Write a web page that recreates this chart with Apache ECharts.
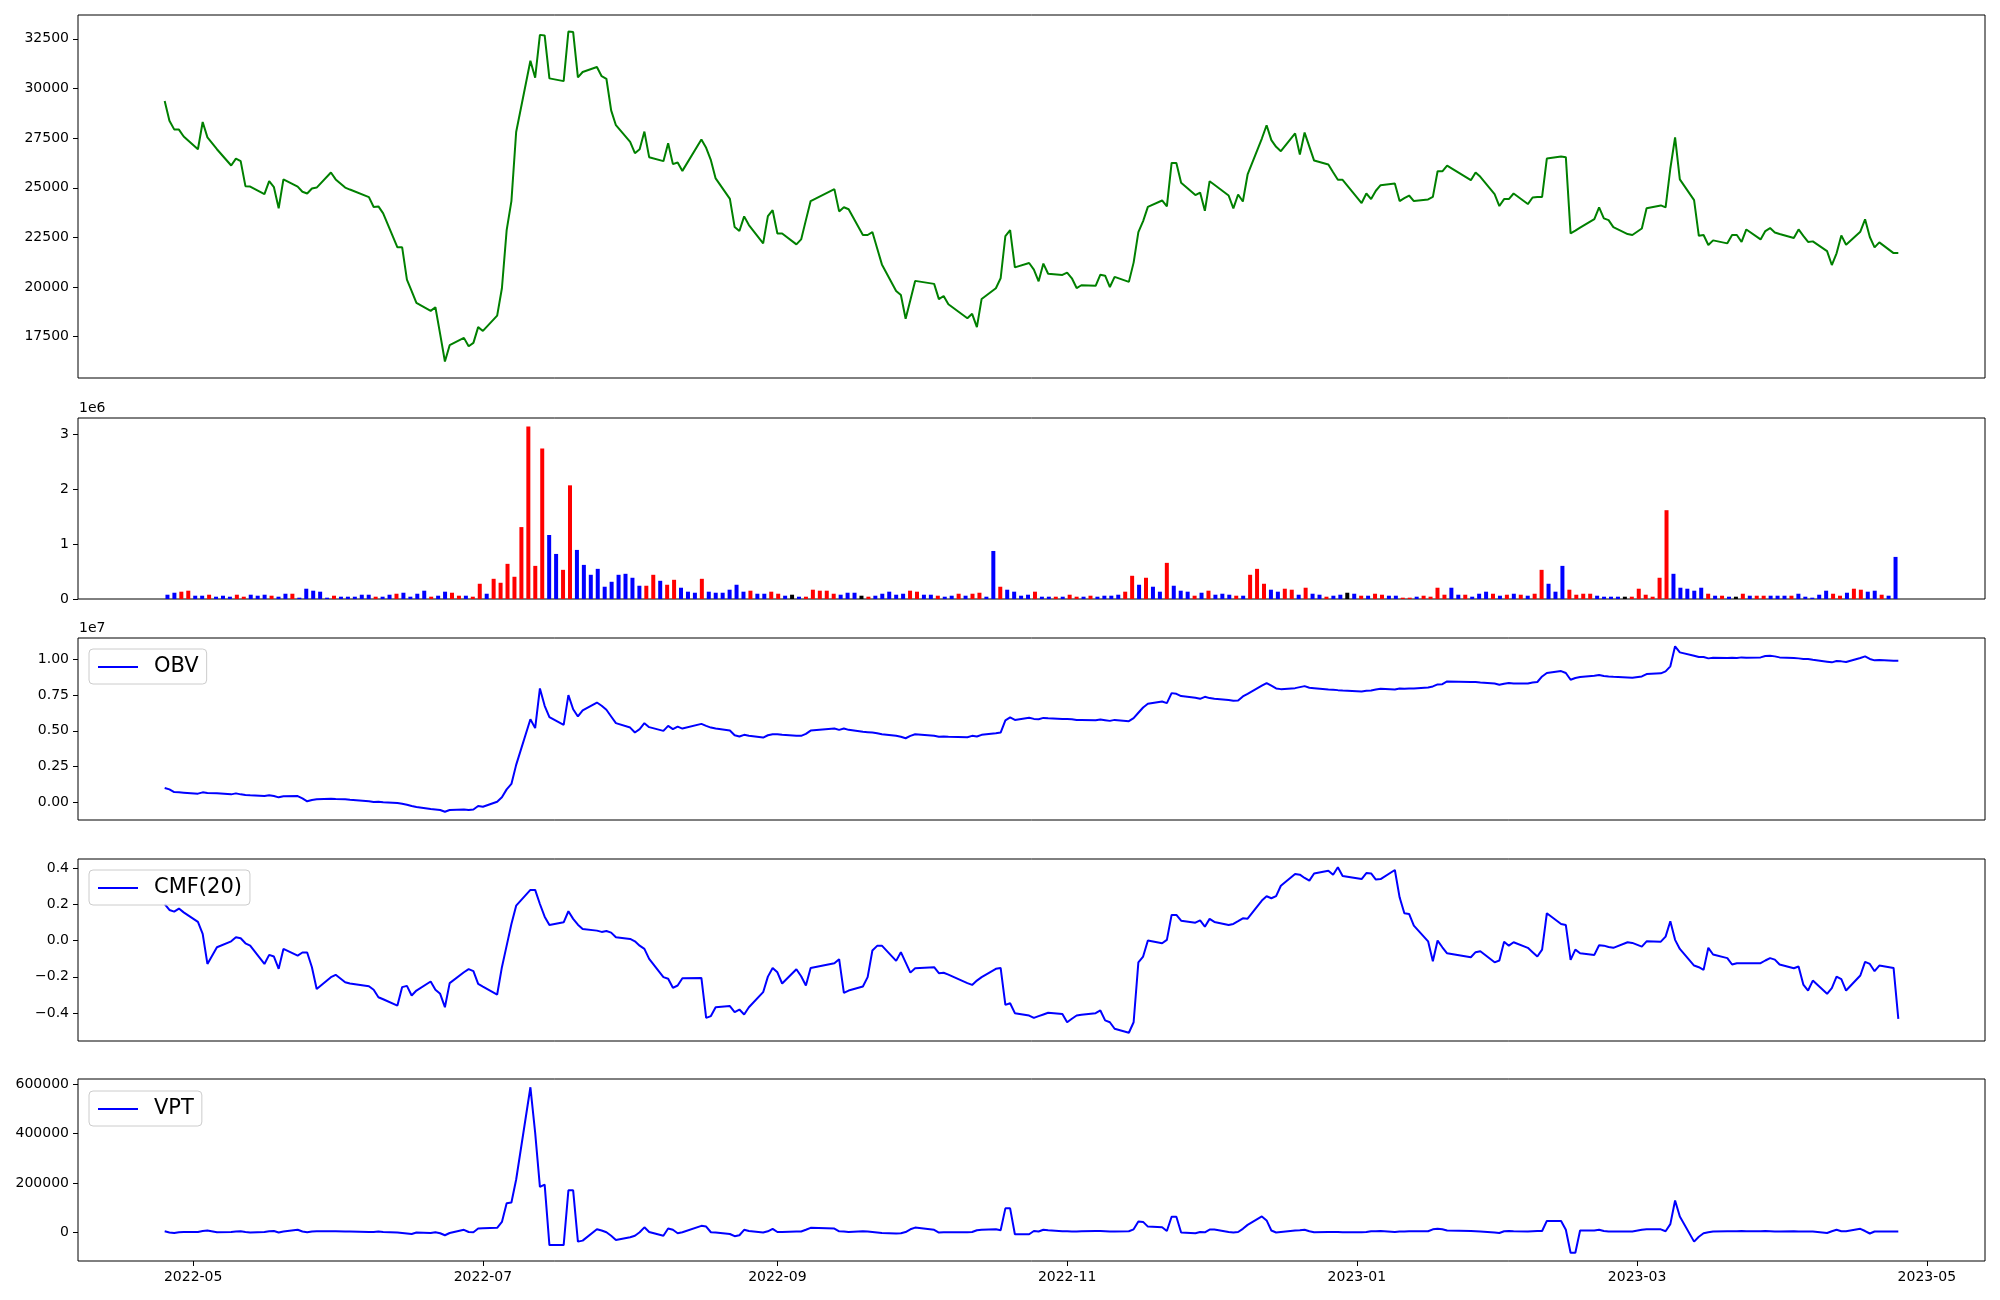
<!DOCTYPE html>
<html><head><meta charset="utf-8">
<script src="https://cdn.jsdelivr.net/npm/echarts@6/dist/echarts.min.js"></script>
<style>html,body{margin:0;padding:0;background:#fff}#c{width:2000px;height:1300px}</style>
</head><body><div id="c"></div>
<script>
// ---------------- data ----------------
const dates = [
'2022-04-25','2022-04-26','2022-04-27','2022-04-28','2022-04-29',
'2022-05-02','2022-05-03','2022-05-04','2022-05-06','2022-05-09','2022-05-10','2022-05-11','2022-05-12','2022-05-13','2022-05-16','2022-05-17','2022-05-18','2022-05-19','2022-05-20','2022-05-23','2022-05-24','2022-05-25','2022-05-26','2022-05-27','2022-05-30','2022-05-31',
'2022-06-02','2022-06-03','2022-06-07','2022-06-08','2022-06-09','2022-06-10','2022-06-13','2022-06-14','2022-06-15','2022-06-16','2022-06-17','2022-06-20','2022-06-21','2022-06-22','2022-06-23','2022-06-24','2022-06-27','2022-06-28','2022-06-29','2022-06-30',
'2022-07-01','2022-07-04','2022-07-05','2022-07-06','2022-07-07','2022-07-08','2022-07-11','2022-07-12','2022-07-13','2022-07-14','2022-07-15','2022-07-18','2022-07-19','2022-07-20','2022-07-21','2022-07-22','2022-07-25','2022-07-26','2022-07-27','2022-07-28','2022-07-29',
'2022-08-01','2022-08-02','2022-08-03','2022-08-04','2022-08-05','2022-08-08','2022-08-09','2022-08-10','2022-08-11','2022-08-12','2022-08-16','2022-08-17','2022-08-18','2022-08-19','2022-08-22','2022-08-23','2022-08-24','2022-08-25','2022-08-26','2022-08-29','2022-08-30','2022-08-31',
'2022-09-01','2022-09-02','2022-09-05','2022-09-06','2022-09-07','2022-09-08','2022-09-13','2022-09-14','2022-09-15','2022-09-16','2022-09-19','2022-09-20','2022-09-21','2022-09-22','2022-09-23','2022-09-26','2022-09-27','2022-09-28','2022-09-29','2022-09-30',
'2022-10-04','2022-10-05','2022-10-06','2022-10-07','2022-10-11','2022-10-12','2022-10-13','2022-10-14','2022-10-17','2022-10-18','2022-10-19','2022-10-20','2022-10-21','2022-10-24','2022-10-25','2022-10-26','2022-10-27','2022-10-28','2022-10-31',
'2022-11-01','2022-11-02','2022-11-03','2022-11-04','2022-11-07','2022-11-08','2022-11-09','2022-11-10','2022-11-11','2022-11-14','2022-11-15','2022-11-16','2022-11-17','2022-11-18','2022-11-21','2022-11-22','2022-11-23','2022-11-24','2022-11-25','2022-11-28','2022-11-29','2022-11-30',
'2022-12-01','2022-12-02','2022-12-05','2022-12-06','2022-12-07','2022-12-08','2022-12-09','2022-12-12','2022-12-13','2022-12-14','2022-12-15','2022-12-16','2022-12-19','2022-12-20','2022-12-21','2022-12-22','2022-12-23','2022-12-26','2022-12-27','2022-12-28','2022-12-29',
'2023-01-02','2023-01-03','2023-01-04','2023-01-05','2023-01-06','2023-01-09','2023-01-10','2023-01-11','2023-01-12','2023-01-13','2023-01-16','2023-01-17','2023-01-18','2023-01-19','2023-01-20','2023-01-25','2023-01-26','2023-01-27','2023-01-30','2023-01-31',
'2023-02-01','2023-02-02','2023-02-03','2023-02-06','2023-02-07','2023-02-08','2023-02-09','2023-02-10','2023-02-13','2023-02-14','2023-02-15','2023-02-16','2023-02-17','2023-02-20','2023-02-21','2023-02-22','2023-02-23','2023-02-24','2023-02-27','2023-02-28',
'2023-03-02','2023-03-03','2023-03-06','2023-03-07','2023-03-08','2023-03-09','2023-03-10','2023-03-13','2023-03-14','2023-03-15','2023-03-16','2023-03-17','2023-03-20','2023-03-21','2023-03-22','2023-03-23','2023-03-24','2023-03-27','2023-03-28','2023-03-29','2023-03-30','2023-03-31',
'2023-04-03','2023-04-04','2023-04-05','2023-04-06','2023-04-07','2023-04-10','2023-04-11','2023-04-12','2023-04-13','2023-04-14','2023-04-17','2023-04-18','2023-04-19','2023-04-20','2023-04-21','2023-04-24','2023-04-25'
];

const price = [
29370,28380,27940,27930,27580,
26940,28310,27540,26940,26120,26470,26340,25080,25060,24680,25330,25030,23970,25420,25060,24800,24710,24960,25010,25770,25420,
25010,24910,24530,24030,24060,23710,22000,22000,20370,19800,19200,18800,18980,17630,16250,17070,17440,17020,17190,17980,
17790,18560,19940,22870,24330,27810,31400,30540,32700,32670,30510,30370,32870,32840,30560,30830,31080,30620,30490,28900,28150,
27310,26740,26940,27830,26540,26340,27240,26190,26270,25850,27430,27010,26390,25470,24440,23020,22820,23560,23120,22200,23570,23870,
22700,22700,22150,22400,23370,24330,24930,23810,24020,23920,22620,22620,22770,21950,21140,19800,19600,18400,19350,20310,
20160,19390,19550,19130,18430,18650,17980,19400,19940,20440,22570,22870,20990,21210,20880,20290,21180,20670,20610,
20730,20440,19950,20090,20060,20620,20570,20000,20510,20260,21230,22770,23320,24040,24360,24060,26250,26250,25250,24630,24760,23840,
25330,25150,24610,23960,24660,24310,25670,27480,28150,27400,27060,26840,27740,26670,27780,27070,26370,26170,25780,25400,25400,
24230,24710,24430,24850,25130,25210,24330,24480,24610,24330,24410,24540,25830,25830,26120,25380,25770,25550,24680,24080,
24430,24430,24710,24180,24510,24530,24540,26470,26570,26540,22700,22840,22990,23420,24010,23460,23370,23020,22670,22620,
22950,23970,24110,24010,25970,27540,25420,24380,22580,22620,22120,22350,22200,22620,22620,22270,22900,22400,22820,22970,22750,22670,
22470,22900,22580,22270,22300,21810,21110,21700,22600,22130,22790,23410,22520,22000,22250,21710,21710
];

const volume = [
78000,114000,133000,151000,60000,
60000,78000,42000,60000,42000,78000,42000,78000,60000,78000,60000,42000,96000,96000,24000,187000,151000,133000,24000,60000,42000,
42000,42000,78000,78000,42000,42000,78000,96000,114000,42000,96000,151000,42000,60000,133000,114000,60000,60000,42000,277000,
96000,367000,295000,639000,404000,1307000,3133000,602000,2735000,1163000,819000,530000,2066000,892000,620000,440000,548000,223000,313000,440000,458000,
386000,241000,241000,440000,331000,259000,349000,205000,133000,114000,367000,133000,114000,114000,169000,259000,133000,151000,96000,96000,133000,96000,
60000,78000,42000,42000,169000,151000,151000,96000,78000,114000,114000,60000,42000,60000,96000,133000,78000,96000,151000,133000,
78000,78000,60000,42000,60000,96000,60000,96000,114000,42000,873000,223000,169000,133000,60000,78000,133000,42000,42000,
42000,42000,78000,42000,42000,60000,42000,60000,60000,78000,133000,422000,259000,386000,223000,133000,657000,241000,151000,133000,60000,114000,
151000,78000,96000,78000,60000,60000,440000,548000,277000,169000,133000,187000,169000,78000,205000,96000,78000,42000,60000,78000,114000,
96000,60000,60000,96000,78000,60000,60000,24000,24000,42000,60000,42000,205000,78000,205000,78000,78000,42000,96000,133000,
96000,60000,78000,96000,78000,60000,96000,530000,277000,133000,602000,169000,78000,96000,96000,60000,42000,42000,42000,42000,
42000,187000,78000,42000,386000,1614000,458000,205000,187000,151000,205000,96000,60000,60000,42000,42000,96000,60000,60000,60000,60000,60000,
60000,60000,96000,42000,24000,78000,151000,96000,60000,114000,187000,169000,133000,151000,78000,60000,765000
];

// bar colour per day: r = red, b = blue, k = black
const barDir =
  "bbrrbbrbbb" + "rrbbbrbbrb" + "bbbbrbbbbb" + "rbbrbbbbrb" + "brrbrrbrrr" +
  "rrrrrbbrrb" + "bbbbbbbbbr" + "rbrrbbbrbb" + "bbbbrbbrrb" + "kbrrrrrbbb" +
  "krbbbbbrrb" + "brbbrbrrbb" + "rbbbbrbbrb" + "rrbrbbbbrr" + "brbbrbbbrb" +
  "rbbbrbrrrb" + "brrbrbbrbb" + "kbrbrrbbrr" + "brrrrbbrbb" + "brbrbrbrrb" +
  "bbrrrrbbbb" + "krrrrrrbbb" + "bbrbrbkrbr" + "rbbbrbbbbb" + "rrbrrbbrbb";

const obv = [
990000,890000,700000,680000,660000,
590000,680000,630000,610000,540000,610000,540000,490000,470000,420000,470000,420000,330000,400000,420000,260000,50000,140000,190000,230000,210000,
190000,160000,50000,0,20000,-20000,-70000,-120000,-190000,-280000,-350000,-490000,-520000,-560000,-680000,-560000,-520000,-560000,-520000,-280000,
-330000,20000,330000,890000,1270000,2610000,5820000,5190000,7980000,6760000,5960000,5420000,7510000,6520000,6010000,6430000,6990000,6760000,6480000,6010000,5540000,
5230000,4880000,5120000,5540000,5260000,5000000,5350000,5120000,5300000,5160000,5490000,5350000,5230000,5160000,5020000,4690000,4600000,4720000,4650000,4530000,4690000,4760000,
4760000,4720000,4650000,4650000,4790000,5020000,5160000,5070000,5160000,5070000,4930000,4910000,4880000,4830000,4760000,4650000,4580000,4480000,4650000,4760000,
4650000,4580000,4600000,4580000,4550000,4650000,4600000,4720000,4830000,4880000,5730000,5940000,5770000,5920000,5840000,5820000,5910000,5890000,5840000,
5840000,5820000,5770000,5770000,5750000,5800000,5750000,5700000,5770000,5680000,5890000,6270000,6640000,6900000,7060000,6950000,7650000,7600000,7440000,7320000,7250000,7390000,
7300000,7250000,7160000,7110000,7130000,7420000,7600000,8170000,8360000,8170000,7980000,7930000,8000000,8070000,8140000,8030000,8000000,7910000,7890000,7860000,7840000,
7770000,7820000,7840000,7910000,7960000,7910000,7980000,7960000,7980000,7980000,8050000,8120000,8260000,8280000,8470000,8430000,8430000,8400000,8330000,8240000,
8310000,8360000,8330000,8330000,8400000,8430000,8820000,9060000,9200000,9060000,8590000,8710000,8780000,8870000,8920000,8850000,8820000,8800000,8750000,8730000,
8820000,8990000,9040000,9180000,9530000,10940000,10510000,10280000,10190000,10190000,10090000,10140000,10120000,10140000,10120000,10160000,10140000,10160000,10260000,10280000,10230000,10160000,
10120000,10090000,10050000,10050000,10000000,9860000,9810000,9900000,9880000,9830000,10120000,10230000,10050000,9950000,9970000,9930000,9930000
];

const cmf = [
0.202,0.169,0.160,0.177,0.156,
0.103,0.037,-0.129,-0.037,-0.004,0.018,0.013,-0.015,-0.028,-0.129,-0.079,-0.088,-0.156,-0.046,-0.083,-0.066,-0.066,-0.147,-0.267,-0.202,-0.189,
-0.230,-0.237,-0.252,-0.272,-0.313,-0.324,-0.359,-0.257,-0.250,-0.303,-0.276,-0.226,-0.272,-0.294,-0.368,-0.235,-0.175,-0.158,-0.169,-0.239,
-0.254,-0.298,-0.147,-0.028,0.092,0.193,0.280,0.280,0.202,0.132,0.086,0.101,0.162,0.120,0.088,0.064,0.055,0.048,0.053,0.044,0.018,
0.009,-0.004,-0.028,-0.046,-0.101,-0.202,-0.211,-0.261,-0.248,-0.208,-0.206,-0.427,-0.417,-0.368,-0.362,-0.395,-0.381,-0.408,-0.368,-0.285,-0.199,-0.151,
-0.175,-0.237,-0.158,-0.197,-0.248,-0.151,-0.125,-0.103,-0.289,-0.276,-0.254,-0.202,-0.055,-0.029,-0.028,-0.112,-0.064,-0.120,-0.177,-0.153,
-0.147,-0.180,-0.178,-0.188,-0.235,-0.245,-0.221,-0.202,-0.156,-0.151,-0.355,-0.346,-0.401,-0.414,-0.427,-0.417,-0.408,-0.399,-0.405,
-0.451,-0.432,-0.414,-0.410,-0.401,-0.386,-0.441,-0.451,-0.487,-0.509,-0.451,-0.120,-0.088,0.000,-0.015,0.004,0.142,0.142,0.110,0.099,0.112,0.077,
0.120,0.103,0.086,0.092,0.107,0.123,0.121,0.221,0.245,0.234,0.246,0.303,0.368,0.364,0.346,0.331,0.371,0.386,0.364,0.405,0.357,
0.340,0.373,0.371,0.337,0.340,0.390,0.239,0.151,0.147,0.083,-0.004,-0.114,0.000,-0.037,-0.070,-0.092,-0.064,-0.059,-0.120,-0.110,
-0.006,-0.028,-0.009,-0.040,-0.064,-0.088,-0.050,0.151,0.092,0.086,-0.107,-0.050,-0.070,-0.079,-0.026,-0.028,-0.035,-0.040,-0.009,-0.013,
-0.033,-0.004,-0.006,0.022,0.107,0.004,-0.046,-0.138,-0.147,-0.162,-0.040,-0.077,-0.097,-0.132,-0.125,-0.125,-0.125,-0.125,-0.110,-0.097,-0.105,-0.132,
-0.153,-0.143,-0.243,-0.276,-0.221,-0.294,-0.263,-0.199,-0.213,-0.276,-0.193,-0.118,-0.129,-0.169,-0.138,-0.151,-0.432
];

const vpt = [
4000,-1000,-3000,0,1000,
1000,5000,7000,0,1000,3000,4000,1000,-1000,1000,4000,5000,-1000,3000,10000,3000,0,3000,4000,4000,4000,
3000,3000,1000,1000,3000,1000,-1000,-3000,-5000,-7000,-1000,-3000,0,-4000,-12000,-3000,10000,1000,0,15000,
16000,18000,42000,118000,121000,214000,588000,404000,184000,193000,-52000,-52000,170000,170000,-38000,-34000,12000,7000,0,-14000,-31000,
-20000,-14000,0,20000,1000,-14000,15000,10000,-4000,0,26000,23000,0,-1000,-7000,-16000,-12000,10000,5000,-1000,4000,14000,
1000,1000,3000,3000,10000,18000,15000,4000,3000,1000,4000,3000,1000,-1000,-3000,-5000,-4000,1000,12000,19000,
10000,-1000,0,0,0,1000,8000,10000,12000,8000,97000,97000,-8000,-8000,5000,3000,10000,8000,4000,
4000,3000,3000,4000,5000,5000,4000,3000,3000,4000,12000,44000,42000,23000,20000,5000,63000,63000,-1000,-4000,1000,0,
11000,11000,1000,-1000,1000,14000,30000,64000,48000,7000,-1000,1000,7000,8000,10000,4000,0,1000,1000,1000,0,
0,1000,4000,4000,5000,1000,3000,3000,4000,4000,4000,12000,14000,12000,7000,5000,4000,3000,-1000,-3000,
4000,5000,4000,3000,4000,5000,5000,46000,46000,10000,-83000,-83000,7000,7000,10000,5000,3000,3000,3000,3000,
10000,12000,12000,4000,33000,129000,64000,-38000,-18000,-4000,0,3000,4000,4000,4000,5000,4000,4000,5000,4000,3000,3000,
4000,3000,3000,3000,3000,-3000,4000,10000,4000,4000,14000,5000,-5000,3000,3000,3000,3000
];

// tick labels
const monthTicks = ['2022-05-01','2022-07-01','2022-09-01','2022-11-01','2023-01-01','2023-03-01','2023-05-01'];
const priceTicks = [17500,20000,22500,25000,27500,30000,32500];
const volTicks = [0,1e6,2e6,3e6];
const obvTicks = [0,2.5e6,5e6,7.5e6,1e7];
const cmfTicks = [-0.4,-0.2,0,0.2,0.4];
const vptTicks = [0,200000,400000,600000];

// ---------------- chart ----------------
const ts = s => { const p = s.split('-').map(Number); return Date.UTC(p[0], p[1]-1, p[2]); };
const X = dates.map(ts);
const span = X[X.length-1] - X[0];
const xMin = X[0] - 0.05*span, xMax = X[X.length-1] + 0.05*span;
const n = volume.length;
const bMin = -0.4 - 0.05*(n-1+0.8), bMax = n-1+0.4 + 0.05*(n-1+0.8);
function pad(arr, stickyZero){
  const lo = stickyZero ? 0 : Math.min(...arr), hi = Math.max(...arr);
  const r = hi - lo;
  return [stickyZero ? 0 : lo - 0.05*r, hi + 0.05*r];
}
const FONT = 'DejaVu Sans';
const MINUS = '\u2212';
const fmtNum = (v, d) => { const s = Math.abs(v).toFixed(d); return (v < -1e-12 ? MINUS : '') + s; };

const grids = [
  {left:78, top:15,   width:1907, height:363},
  {left:78, top:418,  width:1907, height:181},
  {left:78, top:638,  width:1907, height:182},
  {left:78, top:859,  width:1907, height:182},
  {left:78, top:1079, width:1907, height:182}
].map(g => Object.assign({show:true, borderColor:'#000', borderWidth:1, backgroundColor:'#fff', outerBoundsMode:'none', containLabel:false}, g));

function xAx(i, isBar){
  const bottom = (i === 4);
  return {
    type:'value', gridIndex:i, position:'bottom',
    min: isBar ? bMin : xMin, max: isBar ? bMax : xMax,
    axisLine:{show:false, onZero:false},
    splitLine:{show:false},
    axisTick:{show:bottom, inside:false, length:5, lineStyle:{color:'#000', width:1}, customValues: monthTicks.map(ts)},
    axisLabel:{show:bottom, customValues: monthTicks.map(ts), color:'#000', fontSize:14, fontFamily:FONT, margin:9,
      formatter: v => { const d = new Date(v); return d.getUTCFullYear() + '-' + String(d.getUTCMonth()+1).padStart(2,'0'); }}
  };
}
function yAx(i, rng, ticks, fmt){
  return {
    type:'value', gridIndex:i, position:'left', min:rng[0], max:rng[1], scale:true,
    axisLine:{show:false, onZero:false}, splitLine:{show:false},
    axisTick:{show:true, inside:false, length:5, lineStyle:{color:'#000', width:1}, customValues:ticks},
    axisLabel:{show:true, customValues:ticks, color:'#000', fontSize:14, fontFamily:FONT, margin:9, formatter:fmt}
  };
}

const legendBase = {
  orient:'horizontal', icon:'rect', itemWidth:40, itemHeight:2, itemGap:0,
  padding:[6,8,5,9], borderColor:'#cccccc', borderWidth:1, borderRadius:4,
  backgroundColor:'rgba(255,255,255,0.8)', selectedMode:false,
  textStyle:{fontSize:21, fontFamily:FONT, color:'#000', lineHeight:24, padding:[0,0,0,11]}
};

const colorMap = {r:'#ff0000', b:'#0000ff', k:'#000000'};

const option = {
  animation:false,
  backgroundColor:'#fff',
  grid: grids,
  xAxis: [xAx(0,false), xAx(1,true), xAx(2,false), xAx(3,false), xAx(4,false)],
  yAxis: [
    yAx(0, pad(price), priceTicks, v => String(Math.round(v))),
    yAx(1, pad(volume, true), volTicks, v => String(Math.round(v/1e6))),
    yAx(2, pad(obv), obvTicks, v => (v/1e7).toFixed(2)),
    yAx(3, pad(cmf), cmfTicks, v => fmtNum(v,1)),
    yAx(4, pad(vpt), vptTicks, v => String(Math.round(v)))
  ],
  legend: [
    Object.assign({}, legendBase, {data:[{name:'OBV', itemStyle:{color:'#0000ff'}}], left:89, top:649}),
    Object.assign({}, legendBase, {data:[{name:'CMF(20)', itemStyle:{color:'#0000ff'}}], left:89, top:870}),
    Object.assign({}, legendBase, {data:[{name:'VPT', itemStyle:{color:'#0000ff'}}], left:89, top:1091})
  ],
  graphic: [
    {type:'text', left:79, top:401, style:{text:'1e6', fontSize:14, fontFamily:FONT, fill:'#000'}},
    {type:'text', left:79, top:621, style:{text:'1e7', fontSize:14, fontFamily:FONT, fill:'#000'}}
  ],
  series: [
    {name:'Close', type:'line', xAxisIndex:0, yAxisIndex:0, showSymbol:false, symbol:'none',
     lineStyle:{color:'#008000', width:2}, data: X.map((x,i)=>[x, price[i]])},
    {name:'Volume', type:'bar', xAxisIndex:1, yAxisIndex:1, barWidth:4,
     itemStyle:{color: p => colorMap[barDir[p.dataIndex]] || '#0000ff'},
     data: volume.map((v,i)=>[i, v])},
    {name:'OBV', type:'line', xAxisIndex:2, yAxisIndex:2, showSymbol:false, symbol:'none',
     lineStyle:{color:'#0000ff', width:2}, itemStyle:{color:'#0000ff'}, data: X.map((x,i)=>[x, obv[i]])},
    {name:'CMF(20)', type:'line', xAxisIndex:3, yAxisIndex:3, showSymbol:false, symbol:'none',
     lineStyle:{color:'#0000ff', width:2}, itemStyle:{color:'#0000ff'}, data: X.map((x,i)=>[x, cmf[i]])},
    {name:'VPT', type:'line', xAxisIndex:4, yAxisIndex:4, showSymbol:false, symbol:'none',
     lineStyle:{color:'#0000ff', width:2}, itemStyle:{color:'#0000ff'}, data: X.map((x,i)=>[x, vpt[i]])}
  ]
};

const chart = echarts.init(document.getElementById('c'), null, {renderer:'canvas', width:2000, height:1300});
chart.setOption(option);
</script>
</body></html>
